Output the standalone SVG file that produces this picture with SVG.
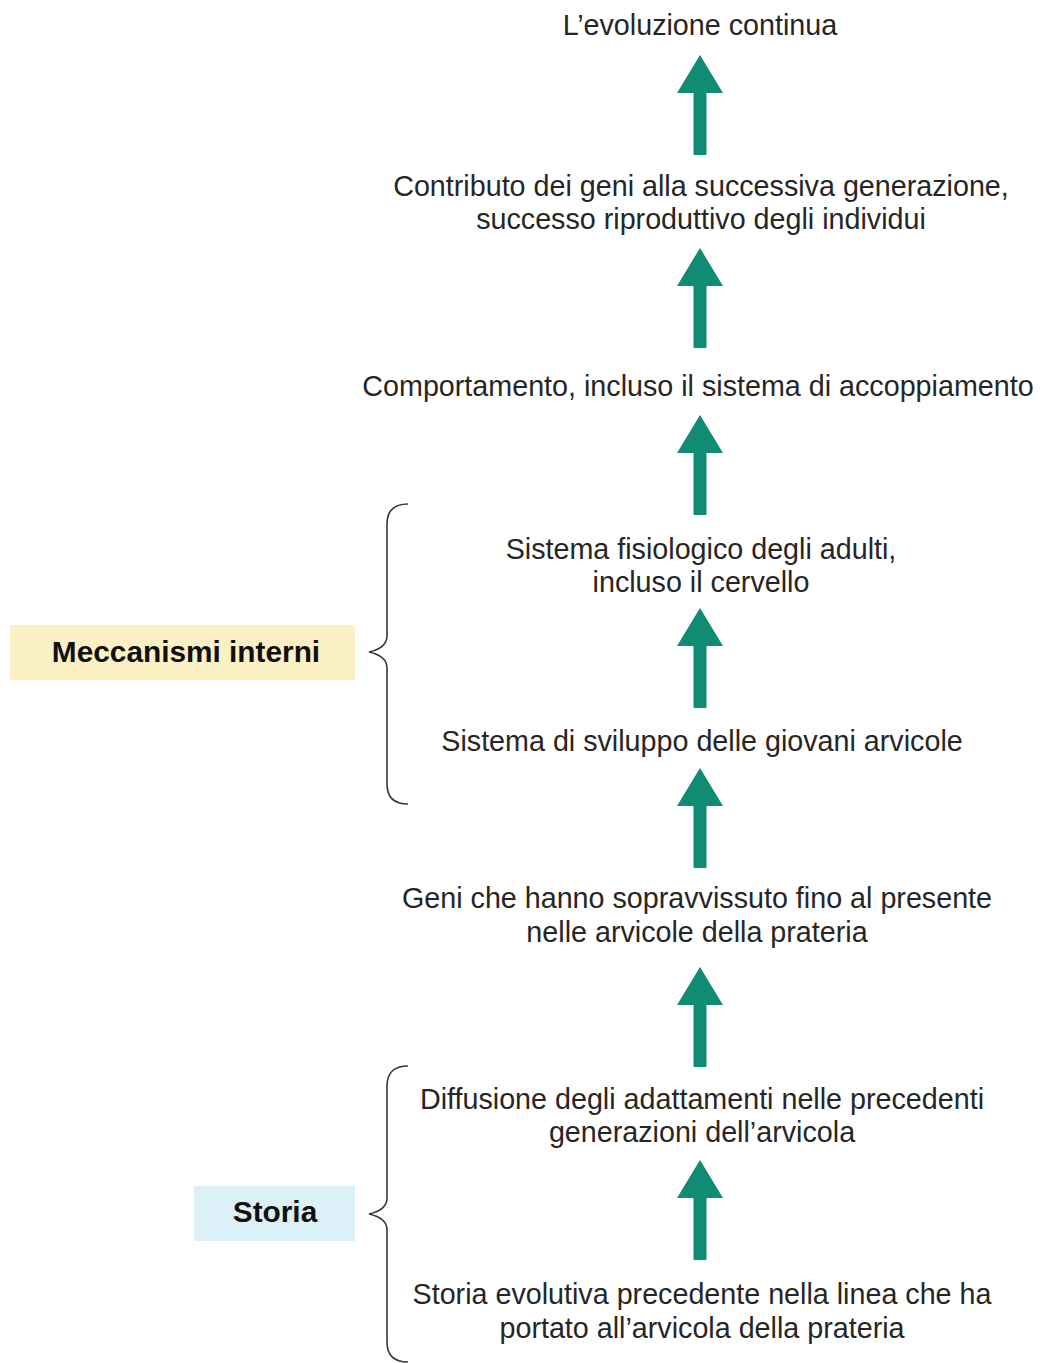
<svg xmlns="http://www.w3.org/2000/svg" width="1042" height="1363" viewBox="0 0 1042 1363">
<defs>
<style>
.t{font-family:"Liberation Sans",Arial,sans-serif;font-size:28.7px;fill:#262626;text-anchor:middle}
.b{font-family:"Liberation Sans",Arial,sans-serif;font-size:29.8px;font-weight:bold;fill:#111;text-anchor:middle}
.arr{fill:#0f8c73}
.brace{fill:none;stroke:#3a3a3a;stroke-width:1.6}
</style>
<path id="up" d="M0 0 L23 38 L6.5 38 L6.5 100 L-6.5 100 L-6.5 38 L-23 38 Z"/>
</defs>
<rect width="1042" height="1363" fill="#fff"/>
<g id="n1"><text class="t" x="700" y="35">L’evoluzione continua</text></g>
<g id="n2"><text class="t" x="701" y="196">Contributo dei geni alla successiva generazione,</text><text class="t" x="701" y="229">successo riproduttivo degli individui</text></g>
<g id="n3"><text class="t" x="698" y="396">Comportamento, incluso il sistema di accoppiamento</text></g>
<g id="n4"><text class="t" x="701" y="559">Sistema fisiologico degli adulti,</text><text class="t" x="701" y="592">incluso il cervello</text></g>
<g id="n5"><text class="t" x="702" y="751">Sistema di sviluppo delle giovani arvicole</text></g>
<g id="n6"><text class="t" x="697" y="908">Geni che hanno sopravvissuto fino al presente</text><text class="t" x="697" y="942">nelle arvicole della prateria</text></g>
<g id="n7"><text class="t" x="702" y="1109">Diffusione degli adattamenti nelle precedenti</text><text class="t" x="702" y="1142">generazioni dell’arvicola</text></g>
<g id="n8"><text class="t" x="702" y="1304">Storia evolutiva precedente nella linea che ha</text><text class="t" x="702" y="1338">portato all’arvicola della prateria</text></g>
<g id="meccanismi"><rect x="10" y="625" width="345" height="55" fill="#fcf0c5"/><text class="b" x="186" y="662">Meccanismi interni</text></g>
<g id="storia"><rect x="194" y="1186" width="161" height="55" fill="#dcf0f7"/><text class="b" x="275" y="1222">Storia</text></g>
<g id="connectors">
<use href="#up" class="arr" x="700" y="55"/>
<use href="#up" class="arr" x="700" y="248"/>
<use href="#up" class="arr" x="700" y="415"/>
<use href="#up" class="arr" x="700" y="608"/>
<use href="#up" class="arr" x="700" y="768"/>
<use href="#up" class="arr" x="700" y="967"/>
<use href="#up" class="arr" x="700" y="1160"/>
<path class="brace" d="M408 504 Q387 504 387 524 L387 636 Q387 648 369 652 Q387 656 387 668 L387 784 Q387 804 408 804"/>
<path class="brace" d="M408 1066 Q387 1066 387 1086 L387 1198 Q387 1210 369 1214 Q387 1218 387 1230 L387 1342 Q387 1362 408 1362"/>
</g>
</svg>
